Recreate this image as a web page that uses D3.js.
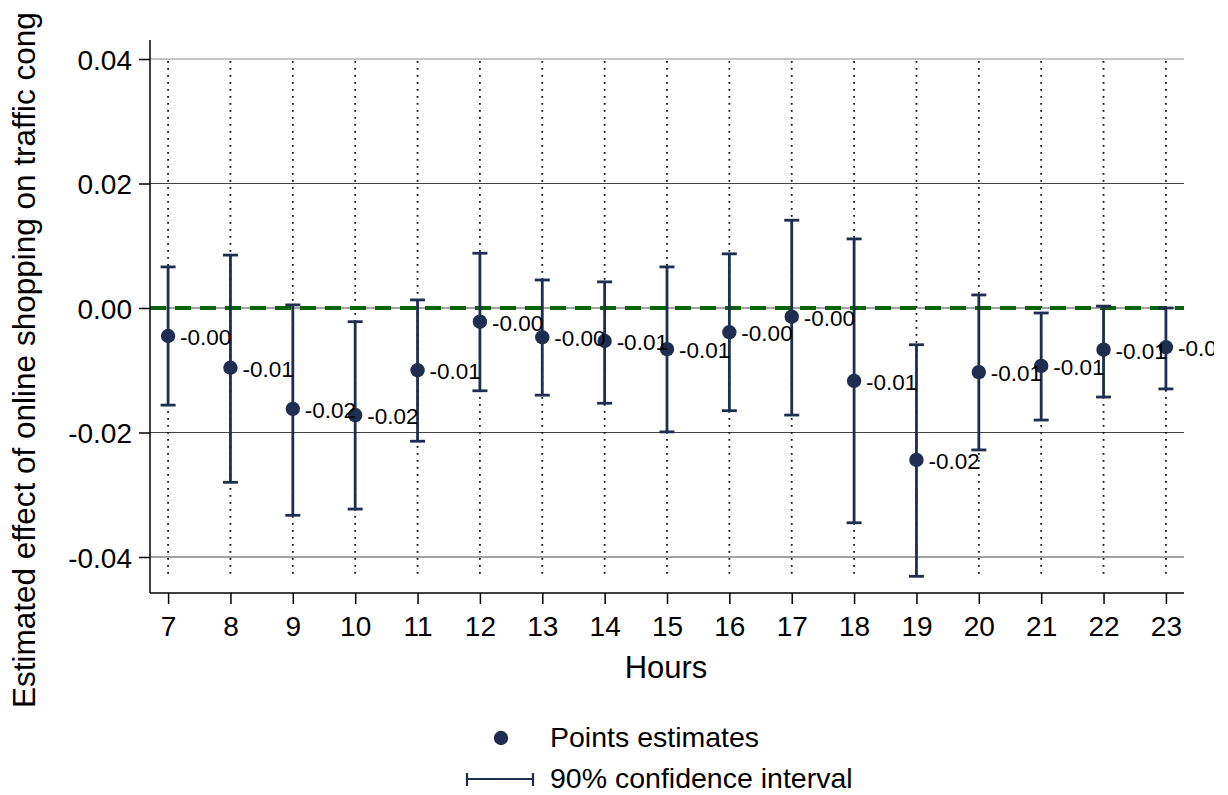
<!DOCTYPE html>
<html lang="en">
<head>
    <meta charset="UTF-8">
    <title>Hourly estimates</title>
    <script src="https://d3js.org/d3.v7.min.js"></script>
    <style>
        body {
            margin: 0;
            padding: 0;
            background: #fff;
        }
        svg text {
            font-family: "Liberation Sans", Arial, sans-serif;
            fill: #000;
        }
    </style>
</head>
<body>
    <div id="chart"></div>

    <script>
        // hours on the x axis
        const hours = [7, 8, 9, 10, 11, 12, 13, 14, 15, 16, 17, 18, 19, 20, 21, 22, 23];
        // point estimates
        const estimates = [-0.0045, -0.0096, -0.0162, -0.0172, -0.0100, -0.0022, -0.0047, -0.0053, -0.0066,
                           -0.0039, -0.0014, -0.0117, -0.0244, -0.0103, -0.0093, -0.0067, -0.0063];
        // 90% CI bounds
        const upper = [0.0066, 0.0085, 0.0005, -0.0022, 0.0013, 0.0088, 0.0045, 0.0042, 0.0066,
                       0.0087, 0.0141, 0.0111, -0.0059, 0.0021, -0.0008, 0.0003, 0.0000];
        const lower = [-0.0156, -0.0280, -0.0333, -0.0323, -0.0214, -0.0133, -0.0140, -0.0153, -0.0199,
                       -0.0165, -0.0172, -0.0345, -0.0431, -0.0228, -0.0180, -0.0143, -0.0130];
        const yTicks = [-0.04, -0.02, 0, 0.02, 0.04];

        const data = hours.map((h, i) => ({ hour: h, est: estimates[i], hi: upper[i], lo: lower[i] }));

        const width = 1228, height = 795;
        const plotLeft = 150, plotRight = 1184, plotTop = 40, plotBottom = 593;
        const navy = "#1f2d50";

        const svg = d3.select("#chart").append("svg")
            .attr("width", width)
            .attr("height", height);

        const x = d3.scaleLinear().domain([6.71, 23.29]).range([plotLeft, plotRight]);
        const y = d3.scaleLinear().domain([-0.04, 0.04]).range([557, 59]);

        svg.append("defs").append("clipPath").attr("id", "clip")
            .append("rect").attr("x", 0).attr("y", 0).attr("width", 1214).attr("height", height);

        // horizontal grid
        svg.append("g")
            .selectAll("line")
            .data(yTicks)
            .enter().append("line")
            .attr("x1", plotLeft).attr("x2", plotRight)
            .attr("y1", d => y(d)).attr("y2", d => y(d))
            .attr("stroke", d => d === 0.04 ? "#8a8a8a" : "#444")
            .attr("stroke-width", 1);

        // dotted vertical lines at each hour
        svg.append("g")
            .selectAll("line")
            .data(hours)
            .enter().append("line")
            .attr("x1", d => x(d)).attr("x2", d => x(d))
            .attr("y1", y(0.04) + 2).attr("y2", y(-0.0427))
            .attr("stroke", "#111")
            .attr("stroke-width", 1.8)
            .attr("stroke-dasharray", "1.8,5.2");

        // zero reference line
        svg.append("line")
            .attr("x1", plotLeft).attr("x2", plotRight)
            .attr("y1", y(0)).attr("y2", y(0))
            .attr("stroke", "#0a640a")
            .attr("stroke-width", 3.8)
            .attr("stroke-dasharray", "16,9");

        // axes
        const yAxis = svg.append("g")
            .attr("transform", `translate(${plotLeft},0)`)
            .call(d3.axisLeft(y).tickValues(yTicks).tickSize(11).tickSizeOuter(0));
        yAxis.select(".domain").remove();
        yAxis.append("line").attr("x1", 0).attr("x2", 0).attr("y1", plotTop).attr("y2", plotBottom)
            .attr("stroke", "#000").attr("stroke-width", 1.5);
        yAxis.selectAll(".tick line").attr("stroke-width", 1.5);
        yAxis.selectAll(".tick text")
            .attr("x", -18).attr("dy", "0.36em")
            .style("font-size", "28px")
            .text(d => d3.format(".2f")(d).replace("−", "-"));

        const xAxis = svg.append("g")
            .attr("transform", `translate(0,${plotBottom})`)
            .call(d3.axisBottom(x).tickValues(hours).tickFormat(d3.format("d")).tickSize(11).tickSizeOuter(0));
        xAxis.select(".domain").remove();
        xAxis.append("line").attr("x1", plotLeft).attr("x2", plotRight).attr("y1", 0).attr("y2", 0)
            .attr("stroke", "#000").attr("stroke-width", 1.5);
        xAxis.selectAll(".tick line").attr("stroke-width", 1.5);
        xAxis.selectAll(".tick text")
            .attr("y", 23)
            .style("font-size", "28px");

        // axis titles
        svg.append("text")
            .attr("x", (plotLeft + plotRight) / 2 - 1)
            .attr("y", 678)
            .attr("text-anchor", "middle")
            .style("font-size", "31px")
            .text("Hours");

        svg.append("text")
            .attr("transform", "translate(35,708) rotate(-90)")
            .attr("text-anchor", "start")
            .style("font-size", "31.5px")
            .text("Estimated effect of online shopping on traffic cong");

        // confidence intervals
        const bars = svg.append("g").attr("stroke", navy).attr("stroke-width", 2.8);
        bars.selectAll(".ci")
            .data(data)
            .enter().append("line")
            .attr("x1", d => x(d.hour)).attr("x2", d => x(d.hour))
            .attr("y1", d => y(d.hi)).attr("y2", d => y(d.lo));
        bars.selectAll(".capHi")
            .data(data)
            .enter().append("line")
            .attr("x1", d => x(d.hour) - 7.5).attr("x2", d => x(d.hour) + 7.5)
            .attr("y1", d => y(d.hi)).attr("y2", d => y(d.hi));
        bars.selectAll(".capLo")
            .data(data)
            .enter().append("line")
            .attr("x1", d => x(d.hour) - 7.5).attr("x2", d => x(d.hour) + 7.5)
            .attr("y1", d => y(d.lo)).attr("y2", d => y(d.lo));

        // points
        svg.append("g")
            .selectAll("circle")
            .data(data)
            .enter().append("circle")
            .attr("cx", d => x(d.hour))
            .attr("cy", d => y(d.est))
            .attr("r", 7.2)
            .attr("fill", navy);

        // value labels
        svg.append("g")
            .attr("clip-path", "url(#clip)")
            .selectAll("text")
            .data(data)
            .enter().append("text")
            .attr("x", d => x(d.hour) + 12)
            .attr("y", d => y(d.est) + 9)
            .style("font-size", "22.5px")
            .text(d => {
                const s = d3.format(".2f")(d.est).replace("−", "-");
                return s.startsWith("-") ? s : "-" + s;
            });

        // legend
        const legend = svg.append("g");
        legend.append("circle").attr("cx", 501).attr("cy", 738).attr("r", 7.2).attr("fill", navy);
        legend.append("text").attr("x", 550).attr("y", 747).style("font-size", "28.5px").text("Points estimates");
        legend.append("line").attr("x1", 467).attr("x2", 533).attr("y1", 779).attr("y2", 779)
            .attr("stroke", navy).attr("stroke-width", 2.2);
        legend.append("line").attr("x1", 467).attr("x2", 467).attr("y1", 773).attr("y2", 786)
            .attr("stroke", navy).attr("stroke-width", 2.2);
        legend.append("line").attr("x1", 533).attr("x2", 533).attr("y1", 773).attr("y2", 786)
            .attr("stroke", navy).attr("stroke-width", 2.2);
        legend.append("text").attr("x", 550).attr("y", 788).style("font-size", "28.5px").text("90% confidence interval");
    </script>
</body>
</html>
